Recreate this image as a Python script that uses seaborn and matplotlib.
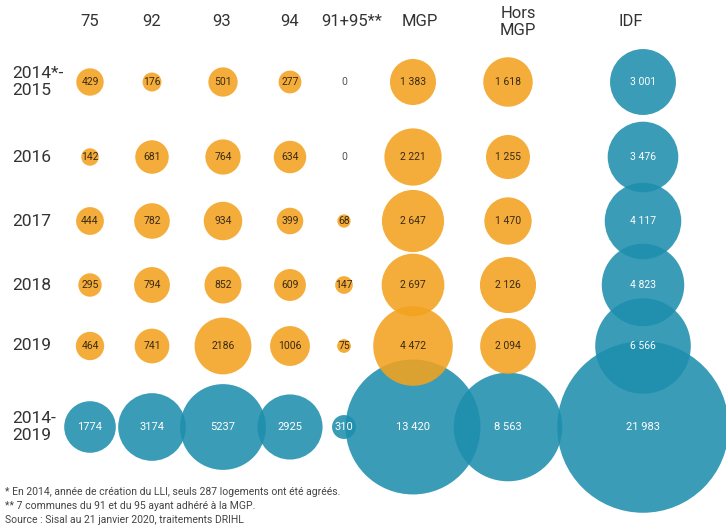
import numpy as np
import pandas as pd
import matplotlib
matplotlib.use("Agg")
import matplotlib.pyplot as plt
import seaborn as sns

# -----------------------------
# DATA (logements LLI agréés)
# -----------------------------
columns = ["75", "92", "93", "94", "91+95**", "MGP", "Hors\nMGP", "IDF"]
rows = ["2014*-\n2015", "2016", "2017", "2018", "2019", "2014-\n2019"]

v_75 = [429, 142, 444, 295, 464, 1774]
v_92 = [176, 681, 782, 794, 741, 3174]
v_93 = [501, 764, 934, 852, 2186, 5237]
v_94 = [277, 634, 399, 609, 1006, 2925]
v_9195 = [0, 0, 68, 147, 75, 310]
v_mgp = [1383, 2221, 2647, 2697, 4472, 13420]
v_hors = [1618, 1255, 1470, 2126, 2094, 8563]
v_idf = [3001, 3476, 4117, 4823, 6566, 21983]

notes = [
    "* En 2014, année de création du LLI, seuls 287 logements ont été agréés.",
    "** 7 communes du 91 et du 95 ayant adhéré à la MGP.",
    "Source : Sisal au 21 janvier 2020, traitements DRIHL",
]

# -----------------------------
# LAYOUT (figure pixels)
# -----------------------------
col_x = [90, 152, 223, 290, 344, 413, 508, 643]
head_x = [90, 152, 222, 290, 352, 420, 518, 631]
row_y = [82, 157, 221, 285, 346, 427]
ORANGE = "#F3A21F"
BLUE = "#1E8FAD"
FONT = ["Roboto", "DejaVu Sans"]

all_values = [v_75, v_92, v_93, v_94, v_9195, v_mgp, v_hors, v_idf]
records = []
for ci, vals in enumerate(all_values):
    for ri, v in enumerate(vals):
        group = "total" if (ri == len(rows) - 1 or ci == len(columns) - 1) else "year"
        records.append({"col": columns[ci], "row": rows[ri], "x": col_x[ci],
                        "y": row_y[ri], "value": v, "group": group,
                        "spaced": ci >= 5})
df = pd.DataFrame(records)
# blue bubbles first so the orange ones sit on top
df["order"] = (df["group"] == "year").astype(int)
df = df.sort_values(["order", "col"], kind="stable")

# bubble scale: diameter (px) grows with sqrt(value), zero -> no bubble
size_map = {v: (0 if v == 0 else ((4 + 1.13 * np.sqrt(v)) * 0.72) ** 2)
            for v in df["value"].unique()}

sns.set_style("white")
plt.rcParams["font.family"] = FONT

fig = plt.figure(figsize=(7.26, 5.26), dpi=100)
ax = fig.add_axes([0, 0, 1, 1])

sns.scatterplot(data=df, x="x", y="y", size="value", hue="group",
                palette={"year": ORANGE, "total": BLUE},
                sizes=size_map, alpha=0.88, linewidth=0, legend=False, ax=ax)

# bubble labels
for _, r in df.iterrows():
    v = r["value"]
    txt = f"{v:,}".replace(",", " ") if r["spaced"] else str(v)
    if v == 0:
        color, fs = "#555555", 7.5
    elif r["group"] == "total":
        color, fs = "white", 8 if r["row"] == rows[-1] else 7.5
    else:
        color, fs = "#3a2a12", 7.5
    ax.text(r["x"], r["y"], txt, ha="center", va="center", fontsize=fs,
            color=color, family=FONT)

# column headers
for name, x in zip(columns, head_x):
    ax.text(x, 22, name, ha="center", va="center", fontsize=12,
            color="#333333", family=FONT, linespacing=1.15)

# row labels
for name, y in zip(rows, row_y):
    ax.text(12, y, name, ha="left", va="center", fontsize=12.5,
            color="#333333", family=FONT, linespacing=1.2)

# footnotes
for i, line in enumerate(notes):
    ax.text(5, 492 + 14 * i, line, ha="left", va="center", fontsize=7.5,
            color="#444444", family=FONT)

ax.set_xlim(0, 726)
ax.set_ylim(526, 0)
ax.axis("off")

fig.savefig("out.png", dpi=100)
